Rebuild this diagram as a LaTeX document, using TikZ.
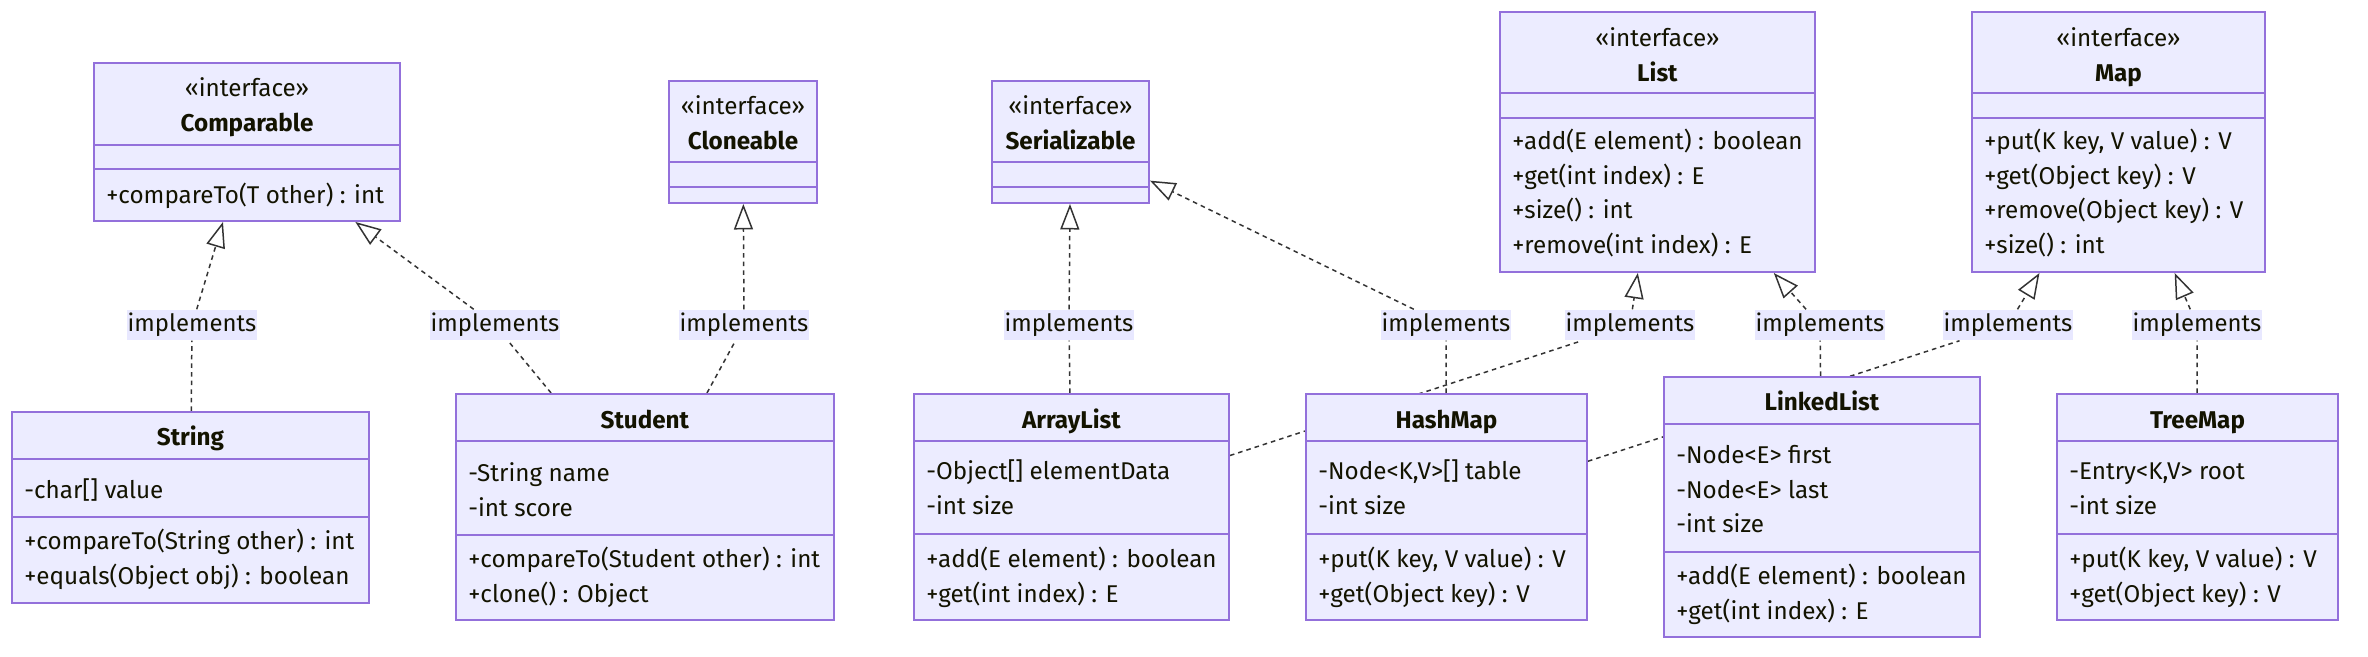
\documentclass[tikz,border=0pt]{standalone}
\usepackage{fontspec}
\setmainfont{Fira Sans}
\usepackage{tikz}
\usepackage{xcolor}
\usetikzlibrary{arrows.meta,fit,backgrounds}

\definecolor{boxfill}{HTML}{ECECFF}
\definecolor{boxline}{HTML}{9370DB}
\definecolor{edgeline}{HTML}{333333}
\definecolor{txt}{HTML}{131300}
\definecolor{lblfill}{HTML}{E8E8FF}

\begin{document}
\begin{tikzpicture}[x=0.02cm, y=-0.02cm,
		classbox/.style={draw=boxline, fill=boxfill, line width=1.1pt, inner sep=0pt},
		divider/.style={draw=boxline, line width=1.1pt},
		title/.style={font=\fontsize{13.8}{19.6}\selectfont, text=txt, align=center, anchor=base, inner sep=0pt},
		members/.style={font=\fontsize{13.8}{19.6}\selectfont, text=txt, align=left, anchor=base west, inner sep=0pt},
		realizes/.style={draw=edgeline, line width=0.85pt, dash pattern=on 2.6pt off 2.3pt,
			-{Triangle[open, length=0.51cm, width=0.38cm]}},
		lbl/.style={fill=lblfill, text=txt, font=\fontsize{13.6}{15}\selectfont, inner xsep=0.5pt, inner ysep=2pt}]
				\useasboundingbox (0,0) rectangle (2368,656);
				
				% Comparable interface
				\node (Comparable) [classbox, fit={(94,63) (400,221)}] {};
				\draw[divider] (94,145) -- (400,145);
				\draw[divider] (94,169) -- (400,169);
				\node (cmpT) [title] at (247,131.4) {«interface»\\\textbf{Comparable}};
				\node (cmpM) [members] at (106,203) {+compareTo(T other) : int};
				
				% Cloneable interface
				\node (Cloneable) [classbox, fit={(669,81) (817,203)}] {};
				\draw[divider] (669,162) -- (817,162);
				\draw[divider] (669,187) -- (817,187);
				\node (clnT) [title] at (743,149.4) {«interface»\\\textbf{Cloneable}};
				
				% Serializable interface
				\node (Serializable) [classbox, fit={(992,81) (1149,203)}] {};
				\draw[divider] (992,162) -- (1149,162);
				\draw[divider] (992,187) -- (1149,187);
				\node (serT) [title] at (1070.5,149.4) {«interface»\\\textbf{Serializable}};
				
				% List interface
				\node (List) [classbox, fit={(1500,12) (1815,272)}] {};
				\draw[divider] (1500,93) -- (1815,93);
				\draw[divider] (1500,118) -- (1815,118);
				\node (lstT) [title] at (1657.5,81.4) {«interface»\\\textbf{List}};
				\node (lstM) [members] at (1512,253.2) {+add(E element) : boolean\\+get(int index) : E\\+size() : int\\+remove(int index) : E};
				
				% Map interface
				\node (Map) [classbox, fit={(1972,12) (2265,272)}] {};
				\draw[divider] (1972,93) -- (2265,93);
				\draw[divider] (1972,118) -- (2265,118);
				\node (mapT) [title] at (2118.5,81.4) {«interface»\\\textbf{Map}};
				\node (mapM) [members] at (1984,253.2) {+put(K key, V value) : V\\+get(Object key) : V\\+remove(Object key) : V\\+size() : int};
				
				% String class
				\node (String) [classbox, fit={(12,412) (369,603)}] {};
				\draw[divider] (12,459) -- (369,459);
				\draw[divider] (12,517) -- (369,517);
				\node (strT) [title] at (190.5,445) {\textbf{String}};
				\node (strA) [members] at (24,498) {-char[] value};
				\node (strM) [members] at (24,584.4) {+compareTo(String other) : int\\+equals(Object obj) : boolean};
				
				% Student class
				\node (Student) [classbox, fit={(456,394) (834,620)}] {};
				\draw[divider] (456,441) -- (834,441);
				\draw[divider] (456,535) -- (834,535);
				\node (stuT) [title] at (645,428) {\textbf{Student}};
				\node (stuA) [members] at (468,516.4) {-String name\\-int score};
				\node (stuM) [members] at (468,602.4) {+compareTo(Student other) : int\\+clone() : Object};
				
				% ArrayList class
				\node (ArrayList) [classbox, fit={(914,394) (1229,620)}] {};
				\draw[divider] (914,441) -- (1229,441);
				\draw[divider] (914,534) -- (1229,534);
				\node (arrT) [title] at (1071.5,428) {\textbf{ArrayList}};
				\node (arrA) [members] at (926,514.4) {-Object[] elementData\\-int size};
				\node (arrM) [members] at (926,602.4) {+add(E element) : boolean\\+get(int index) : E};
				
				% HashMap class
				\node (HashMap) [classbox, fit={(1306,394) (1587,620)}] {};
				\draw[divider] (1306,441) -- (1587,441);
				\draw[divider] (1306,534) -- (1587,534);
				\node (hshT) [title] at (1446.5,428) {\textbf{HashMap}};
				\node (hshA) [members] at (1318,514.4) {-Node<K,V>[] table\\-int size};
				\node (hshM) [members] at (1318,602.4) {+put(K key, V value) : V\\+get(Object key) : V};
				
				% LinkedList class
				\node (LinkedList) [classbox, fit={(1664,377) (1980,637)}] {};
				\draw[divider] (1664,424) -- (1980,424);
				\draw[divider] (1664,552) -- (1980,552);
				\node (lnkT) [title] at (1822,410) {\textbf{LinkedList}};
				\node (lnkA) [members] at (1676,532.8) {-Node<E> first\\-Node<E> last\\-int size};
				\node (lnkM) [members] at (1676,619.4) {+add(E element) : boolean\\+get(int index) : E};
				
				% TreeMap class
				\node (TreeMap) [classbox, fit={(2057,394) (2338,620)}] {};
				\draw[divider] (2057,441) -- (2338,441);
				\draw[divider] (2057,534) -- (2338,534);
				\node (treT) [title] at (2197.5,428) {\textbf{TreeMap}};
				\node (treA) [members] at (2069,514.4) {-Entry<K,V> root\\-int size};
				\node (treM) [members] at (2069,602.4) {+put(K key, V value) : V\\+get(Object key) : V};
				
				% Edge labels
				\node (lStrCmp) [lbl] at (192,325) {implements};
				\node (lStuCmp) [lbl] at (495,325) {implements};
				\node (lStuCln) [lbl] at (744,325) {implements};
				\node (lArrSer) [lbl] at (1069,325) {implements};
				\node (lHshSer) [lbl] at (1446,325) {implements};
				\node (lArrLst) [lbl] at (1630,325) {implements};
				\node (lLnkLst) [lbl] at (1820,325) {implements};
				\node (lHshMap) [lbl] at (2008,325) {implements};
				\node (lTreMap) [lbl] at (2197,325) {implements};
				
				% Realization arrows (behind the boxes)
				\begin{scope}[on background layer]
				\fill[white] (0,0) rectangle (2368,656);
				\draw[realizes] (String) -- (lStrCmp) -- (Comparable);
				\draw[realizes] (Student) -- (lStuCmp) -- (Comparable);
				\draw[realizes] (Student) -- (lStuCln) -- (Cloneable);
				\draw[realizes] (ArrayList) -- (lArrSer) -- (Serializable);
				\draw[realizes] (HashMap) -- (lHshSer) -- (Serializable);
				\draw[realizes] (ArrayList) -- (lArrLst) -- (List);
				\draw[realizes] (LinkedList) -- (lLnkLst) -- (List);
				\draw[realizes] (HashMap) -- (lHshMap) -- (Map);
				\draw[realizes] (TreeMap) -- (lTreMap) -- (Map);
				\end{scope}
			\end{tikzpicture}
\end{document}
